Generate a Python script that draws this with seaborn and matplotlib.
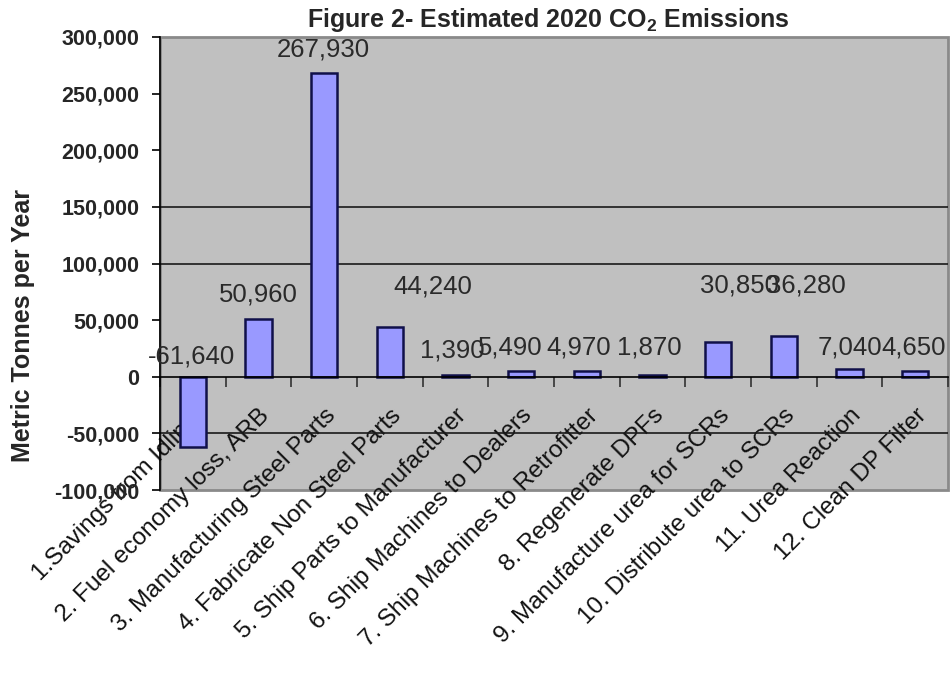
import matplotlib
matplotlib.use("Agg")
import matplotlib.pyplot as plt
import seaborn as sns
import pandas as pd

# Process steps and their estimated 2020 CO2 emissions (metric tonnes per year)
categories = [
    "1.Savings from Idling.",
    "2. Fuel economy loss, ARB",
    "3. Manufacturing Steel Parts",
    "4. Fabricate Non Steel Parts",
    "5. Ship Parts to Manufacturer",
    "6. Ship Machines to Dealers",
    "7. Ship Machines to Retrofitter",
    "8. Regenerate DPFs",
    "9. Manufacture urea for SCRs",
    "10. Distribute urea to SCRs",
    "11. Urea Reaction",
    "12. Clean DP Filter",
]
emissions = [-61640, 50960, 267930, 44240, 1390, 5490, 4970, 1870, 30850, 36280, 7040, 4650]

y_ticks = [-100000, -50000, 0, 50000, 100000, 150000, 200000, 250000, 300000]
grid_levels = [150000, 100000, -50000]

# Placement of each value label: shift along the category axis and height (data units)
label_shift = [-0.02, 0.0, -0.01, 0.66, -0.05, -0.17, -0.13, -0.05, 0.33, 0.35, 0.0, -0.03]
label_height = [18300, 72200, 289400, 80100, 23600, 25400, 25400, 25400, 81000, 81000, 26000, 26000]

sns.set_style("white")
plt.rcParams["font.family"] = ["Liberation Sans", "DejaVu Sans"]
plt.rcParams["mathtext.fontset"] = "custom"
plt.rcParams["mathtext.rm"] = "Liberation Sans:bold"
plt.rcParams["mathtext.it"] = "Liberation Sans:bold"
plt.rcParams["mathtext.bf"] = "Liberation Sans:bold"

fig = plt.figure(figsize=(9.52, 6.77), dpi=100)
ax = fig.add_axes([160 / 952, 1 - 490 / 677, 788 / 952, 453 / 677])
ax.set_facecolor("#c0c0c0")
ax.patch.set_edgecolor("#8a8a8a")
ax.patch.set_linewidth(2.0)

df = pd.DataFrame({"step": categories, "tonnes": emissions})
sns.barplot(data=df, x="step", y="tonnes", ax=ax, color="#9999ff", saturation=1,
            width=0.4, edgecolor="#10104a", linewidth=1.8, zorder=3)

ax.set_xlim(-0.5, len(categories) - 0.5)
ax.set_ylim(-100000, 300000)

for g in grid_levels:
    ax.axhline(g, color="#1a1a1a", lw=1.2, zorder=1)

# Value axis
ax.set_yticks(y_ticks)
ax.set_yticklabels([f"{v:,}" for v in y_ticks], fontsize=15.5, fontweight="bold")
ax.tick_params(axis="y", direction="out", length=6, width=1.2, color="black", pad=9, left=True)

# Category axis crosses at zero
for side in ("top", "right"):
    ax.spines[side].set_visible(False)
ax.spines["left"].set_color("black")
ax.spines["left"].set_linewidth(1.2)
ax.spines["bottom"].set_position(("data", 0))
ax.spines["bottom"].set_color("black")
ax.spines["bottom"].set_linewidth(1.2)
ax.spines["bottom"].set_zorder(4)

ax.set_xticks([i - 0.5 for i in range(len(categories) + 1)], minor=True)
ax.tick_params(axis="x", which="minor", direction="out", length=7, width=1.2,
               color="#333333", bottom=True)
ax.tick_params(axis="x", which="major", length=0, pad=20)
ax.set_xticks(range(len(categories)))
ax.set_xticklabels(categories, rotation=45, ha="right", rotation_mode="anchor",
                   fontsize=17.5, color="#111111")
ax.set_xlabel("")
ax.set_ylabel("")

for i, (v, dx, h) in enumerate(zip(emissions, label_shift, label_height)):
    ax.text(i + dx, h, f"{v:,}", ha="center", va="center", fontsize=18.5,
            color="#2a2a2a", zorder=5)

fig.text(548 / 952, 1 - 20 / 677, r"Figure 2- Estimated 2020 CO$_2$ Emissions",
         ha="center", va="center", fontsize=18, fontweight="bold")
fig.text(23 / 952, 1 - 325 / 677, "Metric Tonnes per Year", rotation=90,
         ha="center", va="center", fontsize=18, fontweight="bold")

fig.savefig("out.png", dpi=100)
